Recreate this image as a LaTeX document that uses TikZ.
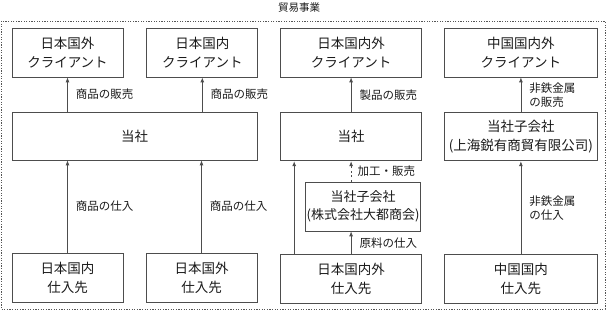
\documentclass[tikz,border=0pt]{standalone}
\usepackage{fontspec}
\setmainfont{Noto Sans CJK JP}
\usepackage{xcolor}
\definecolor{cLine}{HTML}{4D4D4D}
\definecolor{cText}{HTML}{1A1A1A}
\definecolor{cFrame}{HTML}{555555}
\usetikzlibrary{positioning,arrows.meta}
\tikzset{
  node-box/.style={draw=cLine,line width=0.8pt,minimum height=49pt,
    align=center,inner sep=1pt,text=cText,font=\fontsize{13.5}{19}\selectfont},
  edge-label/.style={align=left,inner sep=1pt,text=cText,
    font=\fontsize{11.5}{14}\selectfont},
  arrow/.style={-{Latex[length=5pt,width=4pt]},line width=0.8pt,draw=cLine},
  arrow-dashed/.style={arrow,dash pattern=on 2pt off 2.5pt},
  frame-dotted/.style={draw=cFrame,line width=0.8pt,dash pattern=on 1.2pt off 1.4pt},
}

\begin{document}
\begin{tikzpicture}[x=1pt,y=-1pt,node distance=35pt and 22pt]
  \useasboundingbox (0,0) rectangle (606,310);
  \draw[frame-dotted] (1,21) rectangle (605,309);
  \node[edge-label,font=\fontsize{10.5}{12}\selectfont] (title) at (299,8) {貿易事業};
  % クライアント
  \node[node-box,minimum width=111pt]                  (cl1) at (67.5,52.5) {日本国外\\クライアント};
  \node[node-box,minimum width=111pt,right=23pt of cl1] (cl2) {日本国内\\クライアント};
  \node[node-box,minimum width=141pt,right=of cl2]      (cl3) {日本国内外\\クライアント};
  \node[node-box,minimum width=153pt,right=of cl3]      (cl4) {中国国内外\\クライアント};
  % 当社・子会社
  \node[node-box,minimum width=245pt,minimum height=48pt] (self12) at (134.5,136) {当社};
  \node[node-box,minimum width=141pt,minimum height=48pt,below=of cl3] (self3) {当社};
  \node[node-box,minimum width=153pt,minimum height=48pt,below=of cl4] (sub4) {当社子会社\\(上海鋭有商貿有限公司)};
  \node[node-box,minimum width=114pt,font=\fontsize{13}{18.5}\selectfont] (sub3) at (363,206.5) {当社子会社\\(株式会社大都商会)};
  % 仕入先
  \node[node-box,minimum width=111pt] (sup1) at (67.5,277.5) {日本国内\\仕入先};
  \node[node-box,minimum width=111pt] (sup2) at (201.5,277.5) {日本国外\\仕入先};
  \node[node-box,minimum width=141pt,below=93pt of self3] (sup3) {日本国内外\\仕入先};
  \node[node-box,minimum width=153pt,below=93pt of sub4]  (sup4) {中国国内\\仕入先};

  \draw[arrow] (self12.north -| cl1) -- (cl1) node[edge-label,midway,right=7pt] {商品の販売};
  \draw[arrow] (self12.north -| cl2) -- (cl2) node[edge-label,midway,right=7pt] {商品の販売};
  \draw[arrow] (self3) -- (cl3) node[edge-label,midway,right=7pt] {製品の販売};
  \draw[arrow] (sub4) -- (cl4) node[edge-label,midway,right=7pt] {非鉄金属\\の販売};
  \draw[arrow] (sup1) -- (self12.south -| sup1) node[edge-label,midway,right=7pt] {商品の仕入};
  \draw[arrow] (sup2) -- (self12.south -| sup2) node[edge-label,midway,right=7pt] {商品の仕入};
  \draw[arrow] ([xshift=14pt]sup3.north west) -- ([xshift=14pt]self3.south west);
  \draw[arrow-dashed] (sub3.north -| self3) -- (self3) node[edge-label,midway,right=5pt] {加工・販売};
  \draw[arrow] (sup3) -- (sub3.south -| sup3) node[edge-label,midway,right=7pt] {原料の仕入};
  \draw[arrow] (sup4) -- (sub4) node[edge-label,midway,right=7pt] {非鉄金属\\の仕入};
\end{tikzpicture}
\end{document}
